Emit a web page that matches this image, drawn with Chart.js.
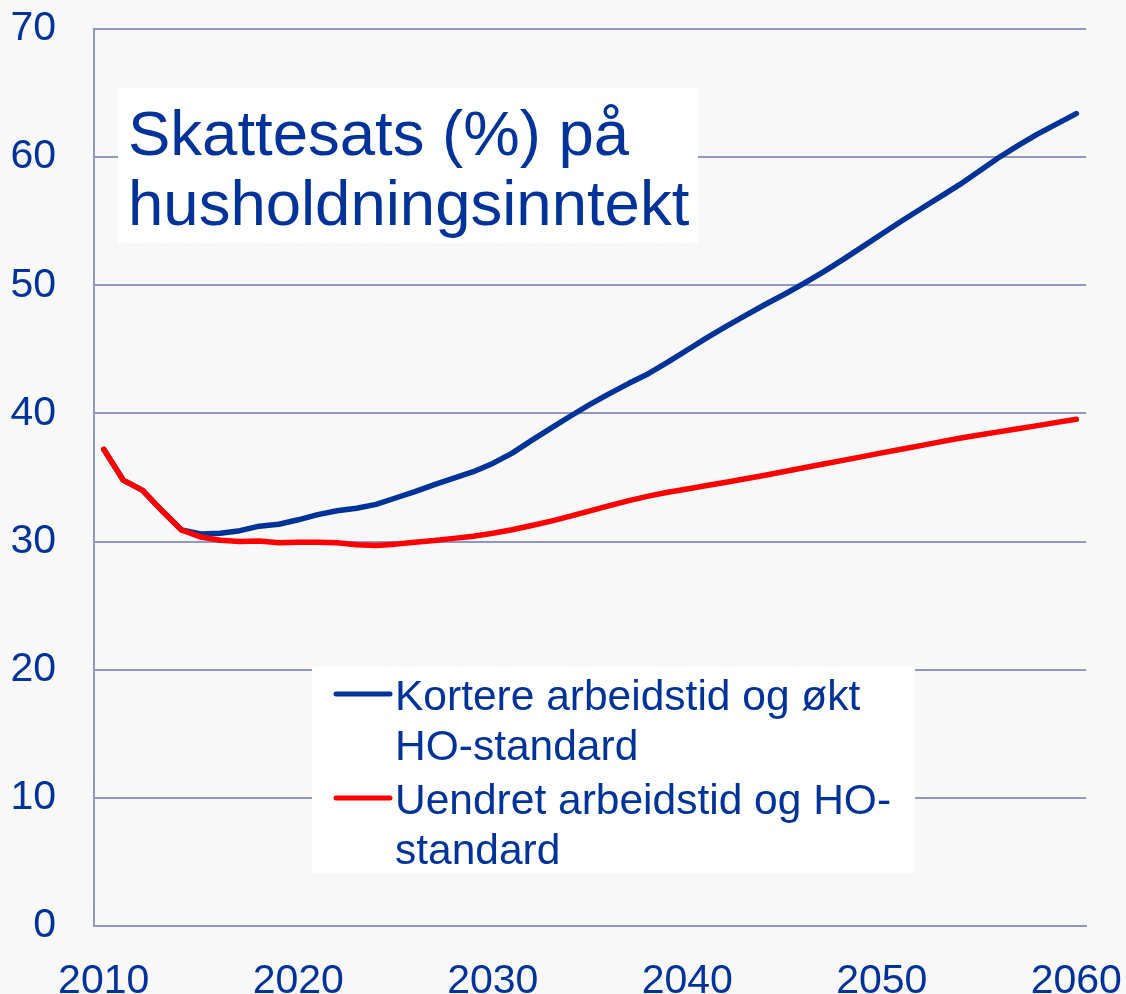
<!DOCTYPE html>
<html lang="no">
<head>
    <meta charset="UTF-8">
    <title>Skattesats</title>
    <script src="https://cdn.jsdelivr.net/npm/chart.js@4.4.0/dist/chart.umd.min.js"></script>
    <style>
        body { margin: 0; background: #f8f8f8; }
        #wrap { width: 1126px; height: 994px; }
    </style>
</head>
<body>
    <div id="wrap">
        <canvas id="chart" width="1126" height="994"></canvas>
    </div>

<script>
    const years = [];
    for (let y = 2010; y <= 2060; y++) years.push(String(y));

    const yTicks = [0, 10, 20, 30, 40, 50, 60, 70];

    // Kortere arbeidstid og økt HO-standard
    const kortere = [
        37.2, 34.8, 34.0, 32.4, 30.9, 30.6, 30.65, 30.85, 31.2, 31.35,
        31.7, 32.1, 32.4, 32.6, 32.9, 33.4, 33.9, 34.45, 34.95, 35.45,
        36.1, 36.9, 37.9, 38.85, 39.8, 40.7, 41.55, 42.35, 43.1, 44.0,
        44.95, 45.9, 46.8, 47.65, 48.5, 49.3, 50.15, 51.05, 52.0, 53.0,
        54.0, 55.0, 55.95, 56.9, 57.85, 58.9, 59.95, 60.9, 61.8, 62.6,
        63.4
    ];

    // Uendret arbeidstid og HO-standard
    const uendret = [
        37.2, 34.8, 34.0, 32.4, 30.9, 30.35, 30.1, 30.0, 30.05, 29.9,
        29.95, 29.95, 29.9, 29.75, 29.7, 29.8, 29.95, 30.08, 30.25, 30.42,
        30.65, 30.92, 31.25, 31.6, 31.98, 32.4, 32.8, 33.2, 33.55, 33.85,
        34.1, 34.37, 34.63, 34.9, 35.18, 35.47, 35.76, 36.05, 36.34, 36.63,
        36.92, 37.2, 37.49, 37.78, 38.06, 38.31, 38.56, 38.8, 39.05, 39.3,
        39.54
    ];

    const titleLines = ['Skattesats (%) på', 'husholdningsinntekt'];
    const legendLines = [
        ['Kortere arbeidstid og økt', 'HO-standard'],
        ['Uendret arbeidstid og HO-', 'standard']
    ];

    const textBlue = '#003399';
    const gridColor = '#9296c4';
    const fontFamily = "'Liberation Sans', Arial, sans-serif";

    // white box with the chart heading inside the plot
    const titleBox = {
        id: 'titleBox',
        beforeDatasetsDraw(c) {
            const ctx = c.ctx, a = c.chartArea;
            ctx.save();
            ctx.fillStyle = '#ffffff';
            ctx.fillRect(a.left + 24, a.top + 59, 580, 155);
            ctx.fillStyle = textBlue;
            ctx.font = '63.5px ' + fontFamily;
            ctx.textBaseline = 'alphabetic';
            ctx.fillText(titleLines[0], a.left + 34, a.top + 126);
            ctx.fillText(titleLines[1], a.left + 34, a.top + 196);
            ctx.restore();
        }
    };

    // legend drawn as a box in the lower middle of the plot
    const legendBox = {
        id: 'legendBox',
        beforeDatasetsDraw(c) {
            const ctx = c.ctx, a = c.chartArea;
            const x0 = a.left + 218, y0 = a.top + 638;
            ctx.save();
            ctx.fillStyle = '#ffffff';
            ctx.fillRect(x0, y0, 603, 206);
            ctx.font = '42.5px ' + fontFamily;
            ctx.textBaseline = 'alphabetic';
            c.data.datasets.forEach((ds, i) => {
                const top = y0 + i * 104;
                ctx.strokeStyle = ds.borderColor;
                ctx.lineWidth = 5;
                ctx.lineCap = 'round';
                ctx.beginPath();
                ctx.moveTo(x0 + 24, top + 27);
                ctx.lineTo(x0 + 78, top + 27);
                ctx.stroke();
                ctx.fillStyle = textBlue;
                legendLines[i].forEach((t, j) => {
                    ctx.fillText(t, x0 + 83, top + 43 + j * 50);
                });
            });
            ctx.restore();
        }
    };

    new Chart(document.getElementById('chart'), {
        type: 'line',
        data: {
            labels: years,
            datasets: [
                {
                    label: 'Kortere arbeidstid og økt HO-standard',
                    data: kortere,
                    borderColor: '#003399',
                    borderWidth: 5.5,
                    pointRadius: 0,
                    tension: 0,
                    borderCapStyle: 'round',
                    borderJoinStyle: 'round',
                    fill: false,
                    order: 1
                },
                {
                    label: 'Uendret arbeidstid og HO-standard',
                    data: uendret,
                    borderColor: '#ff0000',
                    borderWidth: 5.5,
                    pointRadius: 0,
                    tension: 0,
                    borderCapStyle: 'round',
                    borderJoinStyle: 'round',
                    fill: false,
                    order: 0
                }
            ]
        },
        options: {
            responsive: false,
            animation: false,
            layout: { padding: { top: 29, right: 40, left: 0, bottom: 0 } },
            plugins: {
                legend: { display: false },
                tooltip: { enabled: false }
            },
            scales: {
                x: {
                    offset: true,
                    grid: { display: true, color: 'rgba(0,0,0,0)', drawTicks: false },
                    border: { display: true, color: gridColor, width: 2 },
                    ticks: {
                        autoSkip: false,
                        maxRotation: 0,
                        padding: 31,
                        color: textBlue,
                        font: { family: fontFamily, size: 41 },
                        callback: function (v, i) {
                            const y = Number(years[i]);
                            return y % 10 === 0 ? years[i] : '';
                        }
                    },
                    afterFit: s => {
                        s.height = 68;
                        s.paddingLeft = 0;
                        s.paddingRight = 0;
                    }
                },
                y: {
                    min: yTicks[0],
                    max: yTicks[yTicks.length - 1],
                    grid: { color: gridColor, lineWidth: 2, drawTicks: false },
                    border: { display: true, color: gridColor, width: 2 },
                    ticks: {
                        stepSize: 10,
                        padding: 38,
                        color: textBlue,
                        font: { family: fontFamily, size: 41 }
                    },
                    afterFit: s => {
                        s.width = 94;
                        s.paddingTop = 0;
                        s.paddingBottom = 0;
                    }
                }
            }
        },
        plugins: [titleBox, legendBox]
    });
</script>
</body>
</html>
